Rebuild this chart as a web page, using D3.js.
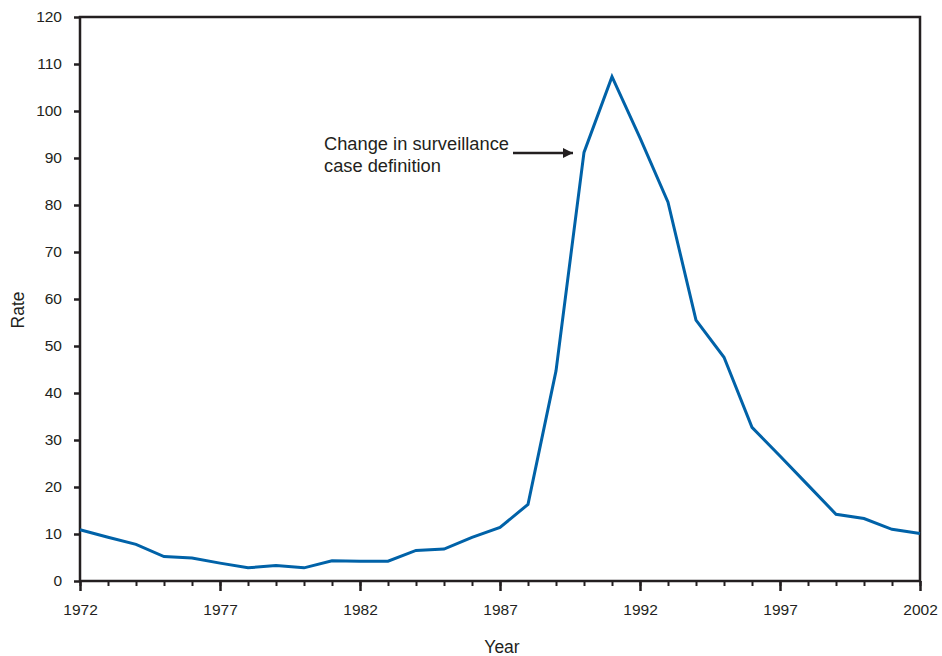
<!DOCTYPE html>
<html><head><meta charset="utf-8">
<script src="https://cdn.jsdelivr.net/npm/d3@7"></script>
<style>body{margin:0;background:#fff;} text{font-family:"Liberation Sans",Arial,sans-serif;fill:#231f20;}</style>
</head><body><svg id="c" width="942" height="656"></svg>
<script>
const years = [1972,1973,1974,1975,1976,1977,1978,1979,1980,1981,1982,1983,1984,1985,1986,1987,1988,1989,1990,1991,1992,1993,1994,1995,1996,1997,1998,1999,2000,2001,2002];
const rates = [10.9,9.3,7.8,5.2,4.9,3.8,2.8,3.3,2.8,4.3,4.2,4.2,6.5,6.8,9.3,11.4,16.3,44.7,91.2,107.3,94.3,80.6,55.5,47.6,32.7,26.6,20.4,14.2,13.3,11.0,10.1];
const xTickLabels = [1972,1977,1982,1987,1992,1997,2002];
const yTickLabels = [0,10,20,30,40,50,60,70,80,90,100,110,120];
const annotation = ["Change in surveillance","case definition"];

const svg = d3.select("#c");
const L=80, R=920, T=17, B=581;
const x = d3.scaleLinear().domain([1972,2002]).range([L,R]);
const y = d3.scaleLinear().domain([0,120]).range([B,T]);
const ink = "#231f20";

// frame
svg.append("rect").attr("x",L).attr("y",T).attr("width",R-L).attr("height",B-T)
  .attr("fill","none").attr("stroke",ink).attr("stroke-width",2.5);

// y axis
const ya = svg.append("g").attr("transform",`translate(${L},0)`)
  .call(d3.axisLeft(y).tickValues(yTickLabels).tickSize(6).tickPadding(12));
ya.select(".domain").remove();
ya.selectAll(".tick line").attr("stroke",ink).attr("stroke-width",2.5);
ya.selectAll(".tick text").style("font-size","15.5px").attr("fill",ink);

// x axis minor
const xa2 = svg.append("g").attr("transform",`translate(0,${B})`)
  .call(d3.axisBottom(x).tickValues(years).tickSize(5).tickFormat(""));
xa2.select(".domain").remove();
xa2.selectAll(".tick line").attr("stroke",ink).attr("stroke-width",2);
// x axis major
const xa = svg.append("g").attr("transform",`translate(0,${B})`)
  .call(d3.axisBottom(x).tickValues(xTickLabels).tickSize(10).tickPadding(13).tickFormat(d3.format("d")));
xa.select(".domain").remove();
xa.selectAll(".tick line").attr("stroke",ink).attr("stroke-width",2.5);
xa.selectAll(".tick text").style("font-size","15.5px").attr("fill",ink);

// titles
svg.append("text").attr("x",502).attr("y",653).attr("text-anchor","middle").style("font-size","17.5px").text("Year");
svg.append("text").attr("transform","translate(24,310) rotate(-90)").attr("text-anchor","middle").style("font-size","17.5px").text("Rate");

// line
svg.append("path").datum(years.map((d,i)=>[d,rates[i]]))
  .attr("d",d3.line().x(d=>x(d[0])).y(d=>y(d[1])))
  .attr("fill","none").attr("stroke","#0062a8").attr("stroke-width",3).attr("stroke-linejoin","miter");

// annotation
svg.append("defs").append("marker").attr("id","ah").attr("viewBox","0 0 10 10").attr("refX",10).attr("refY",5)
  .attr("markerWidth",4).attr("markerHeight",4).attr("orient","auto").attr("markerUnits","strokeWidth")
  .append("path").attr("d","M0,0L10,5L0,10Z").attr("fill",ink);
svg.append("text").attr("x",324).attr("y",150).style("font-size","18.3px").text(annotation[0]);
svg.append("text").attr("x",324).attr("y",172).style("font-size","18.3px").text(annotation[1]);
svg.append("line").attr("x1",513).attr("y1",153).attr("x2",573).attr("y2",153)
  .attr("stroke",ink).attr("stroke-width",2.5).attr("marker-end","url(#ah)");
</script></body></html>
